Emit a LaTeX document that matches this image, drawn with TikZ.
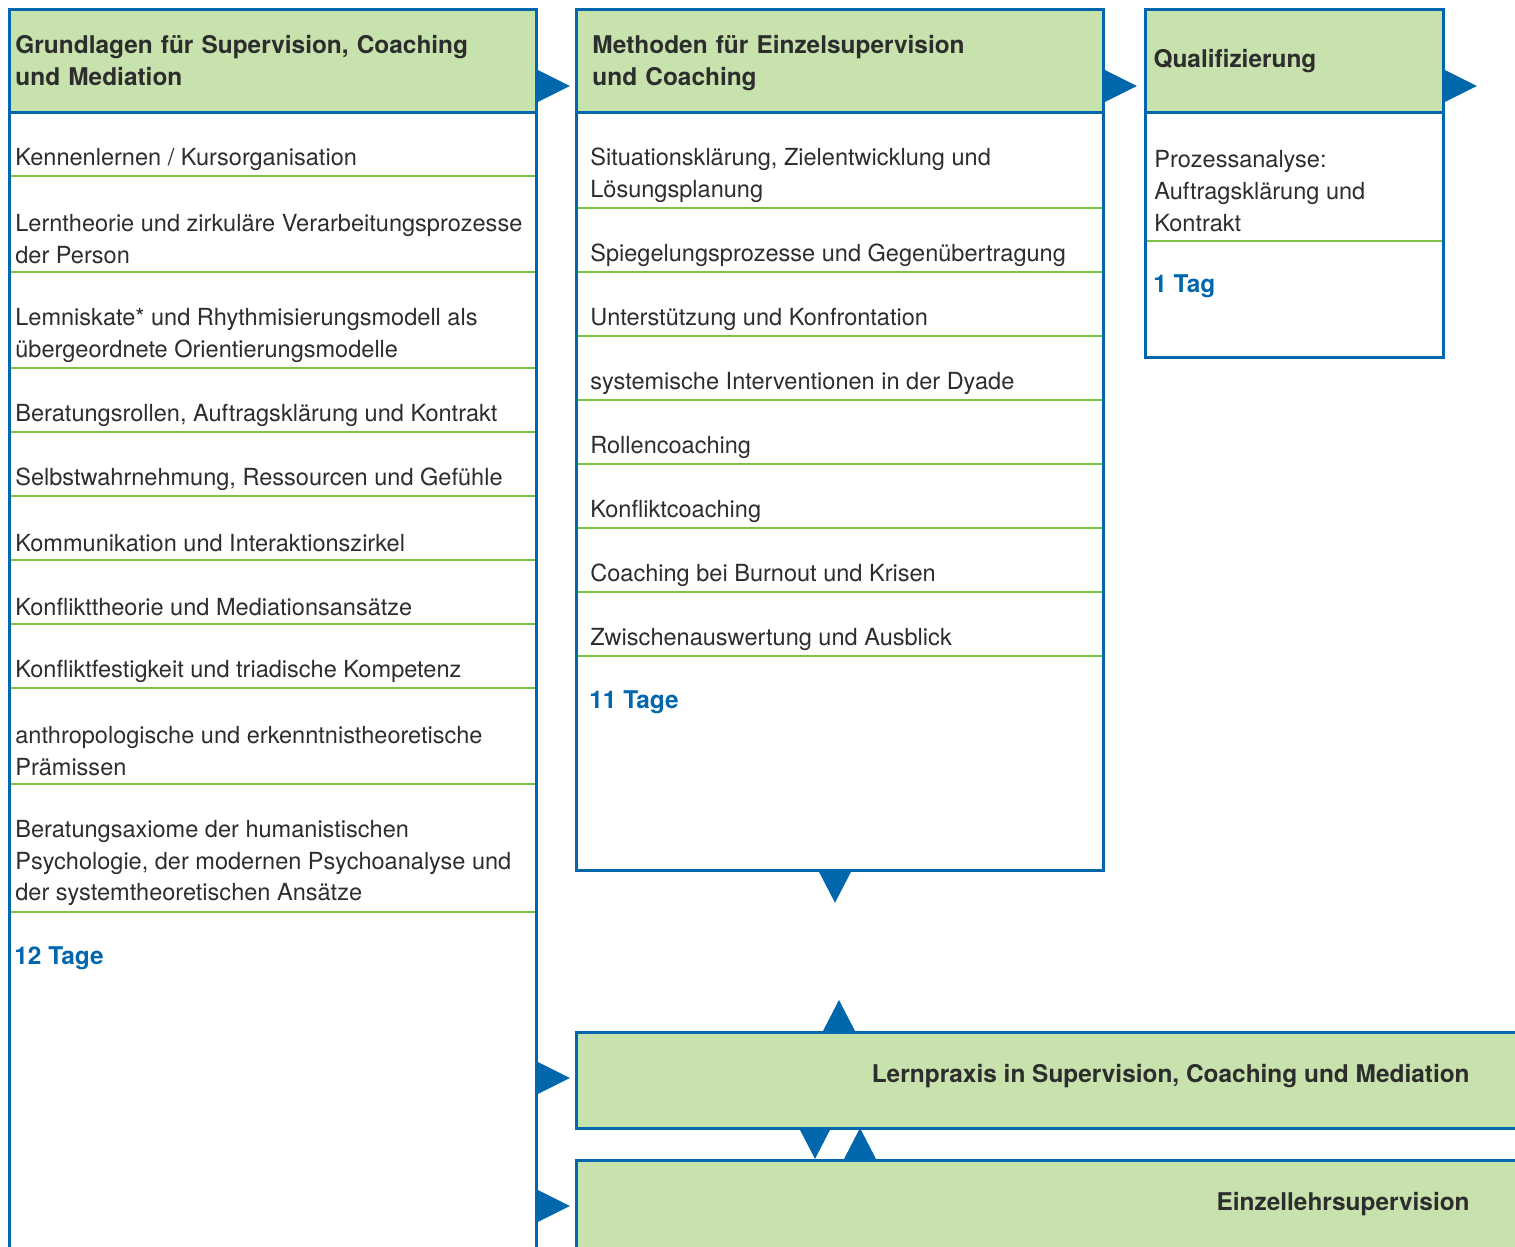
\documentclass[tikz,border=0pt]{standalone}
\usepackage{fontspec}
\setmainfont{TeX Gyre Heros}
\usetikzlibrary{calc,positioning}
\definecolor{blau}{RGB}{0,103,172}
\definecolor{hellgruen}{RGB}{200,226,174}
\definecolor{linie}{RGB}{125,194,66}
\definecolor{schrift}{RGB}{45,45,45}
\newcommand{\pfeilrechts}[1]{\fill[spitze] ($(#1)+(0,-16)$) -- ++(32,16) -- ++(-32,16) -- cycle;}
\newcommand{\pfeilrunter}[1]{\fill[spitze] ($(#1)+(-16,0)$) -- ++(16,31) -- ++(16,-31) -- cycle;}
\newcommand{\pfeilhoch}[1]{\fill[spitze] ($(#1)+(-16,0)$) -- ++(16,-31) -- ++(16,31) -- cycle;}
\tikzset{
  spalte/.style={
      draw=blau,
      line width=1.7pt,
      rectangle,
      anchor=north west,
      inner sep=0pt,
  },
  kopf/.style={
      spalte,
      fill=hellgruen,
      minimum height=2.06cm,
      inner xsep=0.16cm,
      align=left,
      text=schrift,
      font=\bfseries\fontsize{13.9pt}{18.2pt}\selectfont,
  },
  eintrag/.style={
      anchor=west,
      inner sep=0pt,
      align=left,
      text=schrift,
      font=\fontsize{13.4pt}{18.2pt}\selectfont,
  },
  tage/.style={
      eintrag,
      text=blau,
      font=\bfseries\fontsize{13.9pt}{18.2pt}\selectfont,
  },
  trenn/.style={draw=linie, line width=1.1pt},
  spitze/.style={fill=blau},
}

\begin{document}
\begin{tikzpicture}[x=0.02cm,y=-0.02cm]
  \clip (0,0) rectangle (1515,1247);
  % Grundlagen
  \foreach \txt/\y/\s [count=\i] in {
      {Kennenlernen / Kursorganisation}/159/176,
      {Lerntheorie und zirkuläre Verarbeitungsprozesse\\der Person}/239/272,
      {Lemniskate* und Rhythmisierungsmodell als\\übergeordnete Orientierungsmodelle}/335/368,
      {Beratungsrollen, Auftragsklärung und Kontrakt}/415/432,
      {Selbstwahrnehmung, Ressourcen und Gefühle}/479/496,
      {Kommunikation und Interaktionszirkel}/543/560,
      {Konflikttheorie und Mediationsansätze}/607/624,
      {Konfliktfestigkeit und triadische Kompetenz}/671/688,
      {anthropologische und erkenntnistheoretische\\Prämissen}/751/784,
      {Beratungsaxiome der humanistischen\\Psychologie, der modernen Psychoanalyse und\\der systemtheoretischen Ansätze}/863/912}{
    \node[eintrag] (g\i) at (15,\y) {\txt};
    \draw[trenn] (8,\s) -- (535,\s);
  }
  \node[tage] (gtage) at (14,958) {12 Tage};
  \node[spalte, minimum width=10.54cm, minimum height=25.3cm] (grund) at (8,8) {};
  \node[kopf, text width=10.3cm, inner xsep=0.12cm] (grundk) at (8,8)
      {Grundlagen für Supervision, Coaching\\und Mediation};

  % Methoden
  \foreach \txt/\y/\s [count=\i] in {
      {Situationsklärung, Zielentwicklung und\\Lösungsplanung}/175/208,
      {Spiegelungsprozesse und Gegenübertragung}/255/272,
      {Unterstützung und Konfrontation}/319/336,
      {systemische Interventionen in der Dyade}/383/400,
      {Rollencoaching}/447/464,
      {Konfliktcoaching}/511/528,
      {Coaching bei Burnout und Krisen}/575/592,
      {Zwischenauswertung und Ausblick}/639/656}{
    \node[eintrag] (m\i) at (590,\y) {\txt};
    \draw[trenn] (575,\s) -- (1102,\s);
  }
  \node[tage] (mtage) at (589,702) {11 Tage};
  \node[spalte, minimum width=10.54cm, minimum height=17.22cm] (methode) at (575,8) {};
  \node[kopf, text width=9.9cm, inner xsep=0.32cm] (methodek) at (575,8)
      {\strut Methoden für Einzelsupervision\\und Coaching};

  % Qualifizierung
  \node[eintrag] (q1) at (1154,191) {Prozessanalyse:\\Auftragsklärung und\\Kontrakt};
  \draw[trenn] (1144,241) -- (1442,241);
  \node[tage] (qtage) at (1153,286) {1 Tag};
  \node[spalte, minimum width=5.96cm, minimum height=6.96cm] (quali) at (1144,8) {};
  \node[kopf, text width=5.64cm] (qualik) at (1144,8) {Qualifizierung};

  % Lernpraxis und Einzellehrsupervision
  \node[kopf, minimum width=19.1cm, minimum height=1.92cm] (lern) at (575,1031) {};
  \node[eintrag, anchor=east, font=\bfseries\fontsize{13.9pt}{18.2pt}\selectfont]
      (lerntxt) at (1470,1076) {Lernpraxis in Supervision, Coaching und Mediation};
  \node[kopf, minimum width=19.1cm, minimum height=2.4cm] (einzel) at (575,1159) {};
  \node[eintrag, anchor=east, font=\bfseries\fontsize{13.9pt}{18.2pt}\selectfont]
      (einzeltxt) at (1470,1204) {Einzellehrsupervision};

  % Pfeile
  \pfeilrechts{$(grundk.north east)+(0,78)$}
  \pfeilrechts{$(methodek.north east)+(0,78)$}
  \pfeilrechts{$(qualik.north east)+(0,78)$}
  \pfeilrechts{$(grund.north east)+(0,1070)$}
  \pfeilrechts{$(grund.north east)+(0,1198)$}
  \pfeilrunter{$(methode.south west)+(260,0)$}
  \pfeilhoch{$(lern.north west)+(264,0)$}
  \pfeilrunter{$(lern.south west)+(240,-2)$}
  \pfeilhoch{$(einzel.north west)+(285,0)$}
\end{tikzpicture}
\end{document}
